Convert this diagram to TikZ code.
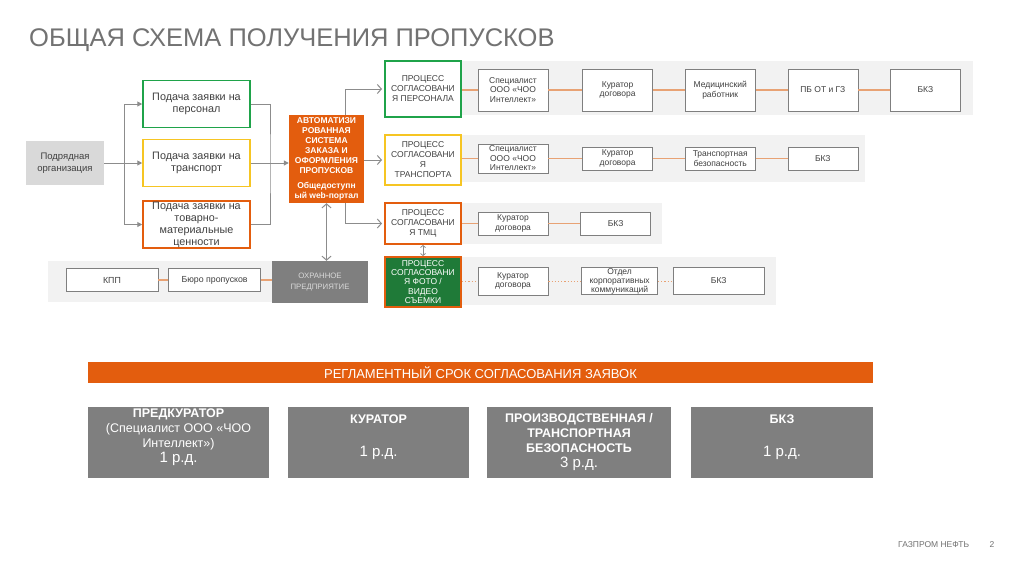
\documentclass[tikz,border=0pt]{standalone}
\usepackage{fontspec}
\setmainfont{Liberation Sans}
\usetikzlibrary{positioning, arrows.meta}
\definecolor{gnorange}{HTML}{E35D0E}
\definecolor{gnline}{HTML}{E8A274}
\definecolor{gngreen}{HTML}{1FA34A}
\definecolor{gndkgreen}{HTML}{1F7A38}
\definecolor{gnyellow}{HTML}{F6C523}
\definecolor{gnband}{HTML}{F2F2F2}
\definecolor{gnlight}{HTML}{D9D9D9}
\definecolor{gndark}{HTML}{7F7F7F}
\definecolor{gntext}{HTML}{404040}
\definecolor{gntitle}{HTML}{727272}
\definecolor{gnarrow}{HTML}{8C8C8C}
\newcommand{\fsz}[2]{\fontsize{#1}{#2}\selectfont}

\begin{document}
\begin{tikzpicture}[
  x=1pt, y=-1pt,
  req/.style={draw, line width=1.5pt, fill=white, text=gntext, minimum width=107pt,
              minimum height=47pt, align=center, font=\fsz{10.8}{12}, inner sep=0pt},
  proc/.style={draw, line width=2pt, fill=white, text=gntext, minimum width=76pt,
               align=center, font=\fsz{8.5}{10}, inner sep=0pt},
  chain/.style={draw=gndark, line width=0.6pt, fill=white, text=gntext, minimum width=70pt,
                minimum height=23pt, align=center, font=\fsz{8.5}{9.5}, inner sep=0pt},
  dur/.style={fill=gndark, text=white, minimum width=181pt, minimum height=71pt,
              align=center, font=\fsz{12.5}{15}, inner sep=0pt},
  ar/.style={-{Triangle[length=5pt,width=5pt]}, gnarrow, line width=1pt},
  arb/.style={-{Straight Barb[length=4pt,width=9pt]}, gnarrow, line width=1pt},
  lnk/.style={gnline, line width=1.2pt},
]
  \useasboundingbox[fill=white] (0,0) rectangle (1024,574);

  % title and footer
  \node[anchor=west, inner sep=0pt, text=gntitle, font=\fsz{25.5}{30}] (title) at (29,40)
    {ОБЩАЯ СХЕМА ПОЛУЧЕНИЯ ПРОПУСКОВ};
  \node[anchor=west, inner sep=0pt, text=gntitle, font=\fsz{8.5}{10}] (foot) at (898,545) {ГАЗПРОМ НЕФТЬ};
  \node[inner sep=0pt, text=gntitle, font=\fsz{8.5}{10}] (page) at (992,545) {2};

  % grey bands
  \fill[gnband] (461,61) rectangle (973,115);
  \fill[gnband] (461,135) rectangle (865,182);
  \fill[gnband] (461,203) rectangle (662,244);
  \fill[gnband] (461,257) rectangle (776,305);
  \fill[gnband] (48,261) rectangle (300,302);

  % requests
  \node[fill=gnlight, text=gntext, minimum width=78pt, minimum height=44pt, align=center,
        font=\fsz{9.5}{12}, inner sep=0pt] (src) at (65,163) {Подрядная\\организация};
  \node[req, draw=gngreen] (reqA) at (196.5,104) {Подача заявки на\\персонал};
  \node[req, draw=gnyellow] (reqB) at (196.5,163) {Подача заявки на\\транспорт};
  \node[req, draw=gnorange] (reqC) at (196.5,224.5) {Подача заявки на\\товарно-\\материальные\\ценности};

  \coordinate (lt) at (124,163);
  \coordinate (rt) at (270,163);
  \draw[ar] (src) -- (reqB);
  \draw[ar] (lt) |- (reqA.west);
  \draw[ar] (lt) |- (reqC.west);
  \draw[gnarrow, line width=1pt] (reqA.east) -| (rt) |- (reqC.east);

  % web portal
  \node[fill=gnorange, text=white, minimum width=75pt, minimum height=88pt, align=center,
        font=\bfseries\fsz{8.5}{10}, inner sep=0pt] (ais) at (326.5,159)
    {АВТОМАТИЗИ\\РОВАННАЯ\\СИСТЕМА\\ЗАКАЗА И\\ОФОРМЛЕНИЯ\\ПРОПУСКОВ\\[5pt]Общедоступн\\ый web-портал};
  \draw[ar] (reqB.east) -- (reqB.east -| ais.west);

  % approval processes
  \node[proc, draw=gngreen, minimum height=56pt] (P1) at (423,89) {ПРОЦЕСС\\СОГЛАСОВАНИ\\Я ПЕРСОНАЛА};
  \node[proc, draw=gnyellow, minimum height=50pt] (P2) at (423,160) {ПРОЦЕСС\\СОГЛАСОВАНИ\\Я\\ТРАНСПОРТА};
  \node[proc, draw=gnorange, minimum height=41pt] (P3) at (423,223.5) {ПРОЦЕСС\\СОГЛАСОВАНИ\\Я ТМЦ};
  \node[proc, draw=gnorange, fill=gndkgreen, text=white, minimum height=50pt, font=\fsz{8.5}{9.4}] (P4) at (423,282)
    {ПРОЦЕСС\\СОГЛАСОВАНИ\\Я ФОТО /\\ВИДЕО\\СЪЕМКИ};

  \draw[arb, shorten >=2pt] ([xshift=18.5pt]ais.north) |- (P1.west);
  \draw[arb, shorten >=2pt] (ais.east |- P2.west) -- (P2.west);
  \draw[arb, shorten >=2pt] ([xshift=18.5pt]ais.south) |- (P3.west);
  \draw[{Straight Barb[length=2pt,width=5pt]}-{Straight Barb[length=2pt,width=5pt]}, gnarrow, line width=0.8pt] (P3) -- (P4);

  % row 1
  \node[chain, minimum height=42pt] (s1) at (513,90) {Специалист\\ООО «ЧОО\\Интеллект»};
  \node[chain, minimum height=42pt, right=34pt of s1] (k1) {Куратор\\договора};
  \node[chain, minimum height=42pt, right=32pt of k1] (m1) {Медицинский\\работник};
  \node[chain, minimum height=42pt, right=32pt of m1] (p1) {ПБ ОТ и ГЗ};
  \node[chain, minimum height=42pt, right=32pt of p1] (b1) {БКЗ};
  \draw[lnk] (P1.east |- s1) -- (s1);
  \draw[lnk] (s1) -- (k1);
  \draw[lnk] (k1) -- (m1);
  \draw[lnk] (m1) -- (p1);
  \draw[lnk] (p1) -- (b1);

  % row 2
  \node[chain, minimum height=29pt] (s2) at (513,158.5) {Специалист\\ООО «ЧОО\\Интеллект»};
  \node[chain, right=34pt of s2] (k2) {Куратор\\договора};
  \node[chain, right=32pt of k2] (t2) {Транспортная\\безопасность};
  \node[chain, right=32pt of t2] (b2) {БКЗ};
  \draw[lnk] (P2.east |- s2) -- (s2);
  \draw[lnk] (s2) -- (k2);
  \draw[lnk] (k2) -- (t2);
  \draw[lnk] (t2) -- (b2);

  % row 3
  \node[chain] (k3) at (513,223.5) {Куратор\\договора};
  \node[chain, right=32pt of k3] (b3) {БКЗ};
  \draw[lnk, line width=1pt] (P3.east |- k3) -- (k3);
  \draw[lnk, line width=1pt] (k3) -- (b3);

  % row 4
  \node[chain, minimum height=28pt] (k4) at (513,281) {Куратор\\договора};
  \node[chain, minimum height=27pt, minimum width=76pt, right=33pt of k4, font=\fsz{8.5}{9}] (o4) {Отдел\\корпоративных\\коммуникаций};
  \node[chain, minimum height=27pt, minimum width=91pt, right=15pt of o4] (b4) {БКЗ};
  \draw[lnk, dotted, line width=0.9pt] (P4.east |- k4) -- (k4);
  \draw[lnk, dotted, line width=0.9pt] (k4) -- (o4);
  \draw[lnk, dotted, line width=0.9pt] (o4) -- (b4);

  % pass office
  \node[chain, minimum width=92pt, font=\fsz{8.8}{10}] (kpp) at (112,280) {КПП};
  \node[chain, minimum width=92pt, font=\fsz{8.8}{10}, right=10pt of kpp] (bur) {Бюро пропусков};
  \node[fill=gndark, text=gnlight, minimum width=96pt, minimum height=42pt, align=center,
        font=\fsz{7.8}{11}, inner sep=0pt] (okh) at (320,282) {ОХРАННОЕ\\ПРЕДПРИЯТИЕ};
  \draw[lnk] (kpp) -- (bur);
  \draw[lnk] (bur.east) -- (bur.east -| okh.west);
  \draw[{Straight Barb[length=4pt,width=9pt]}-{Straight Barb[length=4pt,width=9pt]}, gnarrow, line width=1pt]
    (ais.south) -- (ais.south |- okh.north);

  % approval terms
  \node[fill=gnorange, text=white, minimum width=785pt, minimum height=21pt, inner sep=0pt,
        font=\fsz{13}{14}] (bar) at (480.5,372.5) {РЕГЛАМЕНТНЫЙ СРОК СОГЛАСОВАНИЯ ЗАЯВОК};
  \node[dur, text depth=14pt] (d1) at (178.5,442.5)
    {\bfseries ПРЕДКУРАТОР\\(Специалист ООО «ЧОО\\Интеллект»)\\{\fsz{15}{18}1 р.д.}};
  \node[dur, text depth=14pt] (d2) at (378.5,442.5) {\bfseries КУРАТОР\\[18pt]{\fsz{15}{18}1 р.д.}};
  \node[dur, minimum width=184pt] (d3) at (579,442.5)
    {\bfseries ПРОИЗВОДСТВЕННАЯ /\\\bfseries ТРАНСПОРТНАЯ\\\bfseries БЕЗОПАСНОСТЬ\\{\fsz{15}{17}3 р.д.}};
  \node[dur, minimum width=182pt, text depth=14pt] (d4) at (782,442.5) {\bfseries БКЗ\\[18pt]{\fsz{15}{18}1 р.д.}};
\end{tikzpicture}
\end{document}
